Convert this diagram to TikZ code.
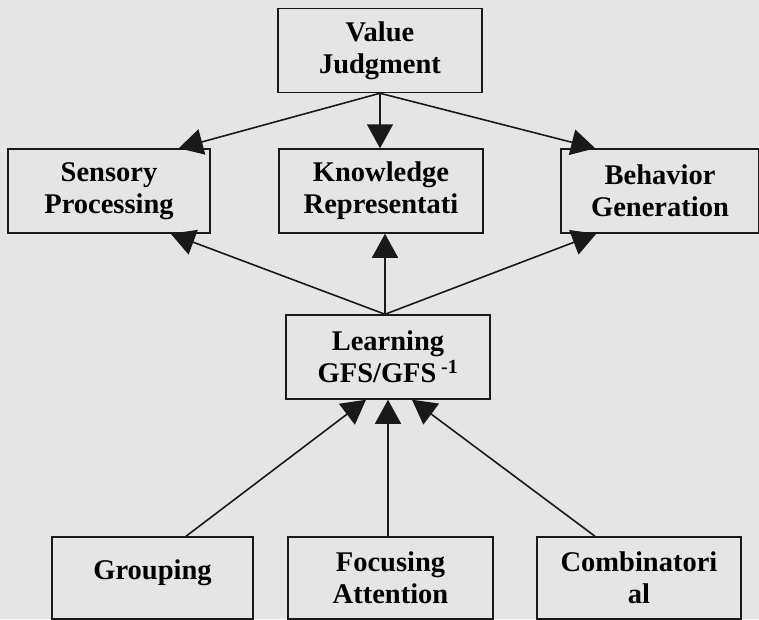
\documentclass[tikz,border=0pt]{standalone}
\usepackage{fontspec}
\setmainfont{Liberation Serif}
\usetikzlibrary{arrows.meta, positioning}
\definecolor{paper}{RGB}{229,229,229}
\tikzstyle{block} = [rectangle, draw=black!90, fill=paper, line width=1.5pt, minimum width=204pt, minimum height=84pt, align=center, inner sep=0pt, font=\fontsize{28.5}{32}\selectfont\bfseries]
\tikzstyle{arrow} = [line width=1.6pt, black!90, -{Triangle[length=24pt,width=26pt]}]

\begin{document}
\begin{tikzpicture}[x=1pt,y=-1pt]
    \fill[paper] (0,0) rectangle (759,619);
    \useasboundingbox (0,0) rectangle (759,619);

    \node[block] (value) at (380,50.5) {Value\\Judgment};
    \node[block,minimum width=202pt] (sensory) at (109,191) {Sensory\\Processing};
    \node[block] (knowledge) at (381,191) {Knowledge\\Representati};
    \node[block,minimum width=198pt] (behavior) at (660,191) {Behavior\\Generation};
    \node[block] (learning) at (388,357) {Learning\\GFS/GFS\,\textsuperscript{-1}};
    \node[block,minimum width=201pt,minimum height=82pt] (grouping) at (152.5,578) {Grouping\\[-16pt]\mbox{}};
    \node[block,minimum width=205pt,minimum height=82pt] (focusing) at (390.5,578) {Focusing\\Attention};
    \node[block,minimum height=82pt] (combinatorial) at (639,578) {Combinatori\\al};

    \draw[arrow] (value.south) -- (value.south |- knowledge.north);
    \draw[arrow] (value.south) -- ([xshift=-32pt]sensory.north east);
    \draw[arrow] (value.south) -- ([xshift=35pt]behavior.north west);

    \draw[arrow] ([xshift=-3pt]learning.north) -- ([xshift=-3pt]learning.north |- knowledge.south);
    \draw[arrow] ([xshift=-3pt]learning.north) -- ([xshift=-40pt]sensory.south east);
    \draw[arrow] ([xshift=-3pt]learning.north) -- ([xshift=36pt]behavior.south west);

    \draw[arrow] ([xshift=33.5pt]grouping.north) -- ([xshift=-22pt]learning.south);
    \draw[arrow] ([xshift=-2.5pt]focusing.north) -- ([xshift=-2.5pt]focusing.north |- learning.south);
    \draw[arrow] ([xshift=-44pt]combinatorial.north) -- ([xshift=24pt]learning.south);
\end{tikzpicture}
\end{document}
